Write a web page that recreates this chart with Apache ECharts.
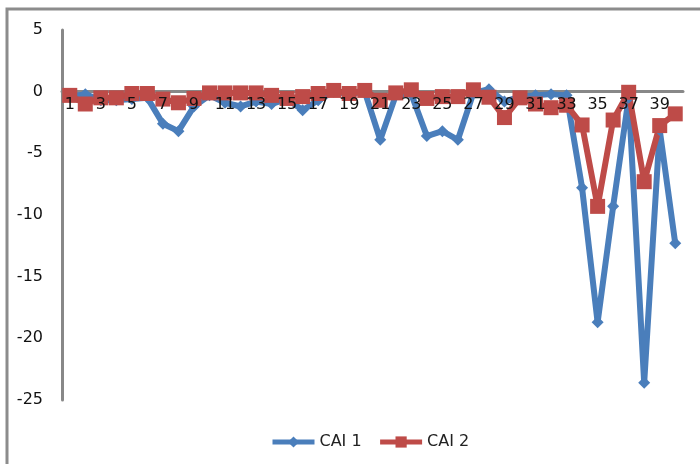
<!DOCTYPE html>
<html>
<head>
<meta charset="utf-8">
<script src="https://cdn.jsdelivr.net/npm/echarts@6/dist/echarts.min.js"></script>
<style>
  html, body { margin: 0; padding: 0; background: #fff; }
  #chart { width: 700px; height: 464px; }
</style>
</head>
<body>
<div id="chart"></div>
<script>
// categories 1..40
var categories = ['1','2','3','4','5','6','7','8','9','10','11','12','13','14','15','16','17','18','19','20',
  '21','22','23','24','25','26','27','28','29','30','31','32','33','34','35','36','37','38','39','40'];

var cai1 = [-0.4, -0.2, -0.7, -0.7, -0.6, -0.5, -2.6, -3.2, -1.2, -0.3,
  -0.9, -1.2, -0.8, -1.0, -0.6, -1.5, -0.7, 0.0, -0.2, 0.0,
  -3.9, -0.3, -0.2, -3.6, -3.2, -3.9, -0.1, 0.2, -0.8, -0.4,
  -0.3, -0.2, -0.3, -7.8, -18.7, -9.3, -0.5, -23.6, -3.1, -12.3];

var cai2 = [-0.3, -1.0, -0.5, -0.5, -0.15, -0.15, -0.6, -0.9, -0.55, -0.1,
  -0.1, -0.1, -0.1, -0.3, -0.55, -0.4, -0.15, 0.1, -0.15, 0.1,
  -0.7, -0.1, 0.15, -0.55, -0.4, -0.4, 0.15, -0.45, -2.1, -0.5,
  -1.0, -1.3, -1.1, -2.7, -9.3, -2.3, -0.05, -7.3, -2.75, -1.8];

var yTicks = {min: -25, max: 5, step: 5};

var chart = echarts.init(document.getElementById('chart'));
var font = 'DejaVu Sans';
var gridTop = 30, gridBottom = 64, plotH = 464 - gridTop - gridBottom;
// shift the category axis up to the zero line
var zeroOffset = -plotH * (0 - yTicks.min) / (yTicks.max - yTicks.min);

var option = {
  animation: false,
  textStyle: {fontFamily: font},
  color: ['#4a7ebb', '#be4b48'],
  graphic: [{
    type: 'rect',
    shape: {x: 7, y: 9, width: 720, height: 480},
    style: {fill: 'none', stroke: '#8c8c8c', lineWidth: 3}
  }],
  grid: {left: 62, right: 17, top: gridTop, bottom: gridBottom},
  legend: {
    left: 265,
    top: 429,
    itemWidth: 42,
    itemHeight: 14,
    itemGap: 16,
    lineStyle: {width: 5},
    textStyle: {fontFamily: font, fontSize: 16, color: '#222'},
    data: ['CAI 1', 'CAI 2']
  },
  xAxis: [
    {
      // axis line, under the series
      type: 'category',
      data: categories,
      position: 'bottom',
      boundaryGap: true,
      offset: zeroOffset,
      axisLine: {onZero: false, lineStyle: {color: '#888', width: 3}},
      axisTick: {show: false},
      axisLabel: {show: false}
    },
    {
      // labels drawn over the series, like the original
      type: 'category',
      data: categories,
      position: 'bottom',
      boundaryGap: true,
      offset: zeroOffset,
      z: 5,
      axisLine: {show: false, onZero: false},
      axisTick: {show: false},
      axisLabel: {interval: 1, margin: 5, fontSize: 16, color: '#111', fontFamily: font}
    }
  ],
  yAxis: {
    type: 'value',
    min: yTicks.min,
    max: yTicks.max,
    interval: yTicks.step,
    axisLine: {show: true, lineStyle: {color: '#888', width: 3}},
    axisTick: {show: false},
    splitLine: {show: false},
    axisLabel: {margin: 19, fontSize: 16, color: '#111', fontFamily: font}
  },
  series: [
    {
      name: 'CAI 1',
      type: 'line',
      data: cai1,
      symbol: 'diamond',
      symbolSize: 12,
      showAllSymbol: true,
      lineStyle: {width: 6},
      itemStyle: {color: '#4a7ebb'}
    },
    {
      name: 'CAI 2',
      type: 'line',
      data: cai2,
      symbol: 'rect',
      symbolSize: 15,
      showAllSymbol: true,
      lineStyle: {width: 6},
      itemStyle: {color: '#be4b48'}
    }
  ]
};

chart.setOption(option);
</script>
</body>
</html>
